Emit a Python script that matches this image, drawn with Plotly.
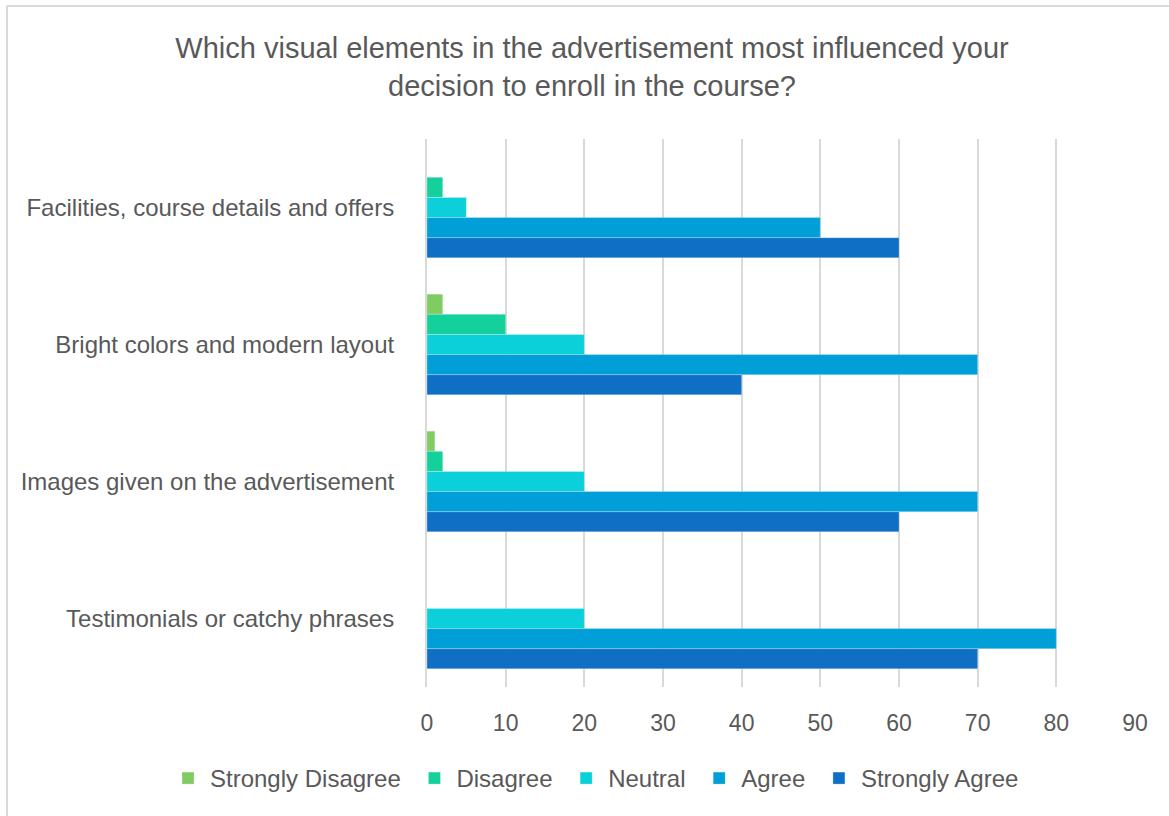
import plotly.graph_objects as go

categories = [
    "Facilities, course details and offers",
    "Bright colors and modern layout",
    "Images given on the advertisement",
    "Testimonials or catchy phrases",
]
series_names = ["Strongly Disagree", "Disagree", "Neutral", "Agree", "Strongly Agree"]
strongly_disagree = [0, 2, 1, 0]
disagree = [2, 10, 2, 0]
neutral = [5, 20, 20, 20]
agree = [50, 70, 70, 80]
strongly_agree = [60, 40, 60, 70]
x_ticks = [0, 10, 20, 30, 40, 50, 60, 70, 80, 90]

values = [strongly_disagree, disagree, neutral, agree, strongly_agree]
colors = ["#7fcc60", "#14d09a", "#0bd0da", "#019fd7", "#0f6fc4"]

FONT = "Liberation Sans, Arial, sans-serif"
W, H = 1169, 816
L, R, T, B = 427, 34, 139, 129
pw = W - L - R
ph = H - T - B

fig = go.Figure()
for name, vals, col in zip(series_names, values, colors):
    fig.add_trace(go.Bar(
        y=categories, x=vals, name=name + "\u00a0", orientation="h",
        marker=dict(color=col, line=dict(color="rgba(255,255,255,0.5)", width=0.5)),
    ))

fig.update_layout(
    width=W, height=H,
    paper_bgcolor="white", plot_bgcolor="white",
    barmode="group", bargap=0.265, bargroupgap=0,
    margin=dict(l=L, r=R, t=T, b=B, autoexpand=False),
    title=dict(
        text="Which visual elements in the advertisement most influenced your<br>decision to enroll in the course?",
        x=592 / W, xanchor="center", xref="container",
        y=1 - 58 / H, yanchor="top", yref="container",
        font=dict(family=FONT, size=29, color="#595959"),
    ),
    xaxis=dict(
        range=[0, 90], tickvals=x_ticks, showgrid=True, gridcolor="#d9d9d9", gridwidth=2,
        zeroline=False, showline=False, ticks="",
        ticklabelstandoff=20,
        tickfont=dict(family=FONT, size=23, color="#595959"),
    ),
    yaxis=dict(
        autorange="reversed", showgrid=False, zeroline=False,
        showline=True, linecolor="#d9d9d9", linewidth=2, ticks="",
        ticklabelstandoff=26,
        tickfont=dict(family=FONT, size=24, color="#595959"),
    ),
    legend=dict(
        orientation="h", x=(166 - L) / pw, xanchor="left", xref="paper",
        y=-(756 - (H - B)) / ph, yanchor="top", yref="paper", traceorder="normal",
        font=dict(family=FONT, size=24, color="#595959"),
        itemwidth=34,
    ),
)
xl = (7 - L) / pw
yt = (H - B - 6) / ph
fig.layout.shapes = [
    dict(type="line", xref="paper", yref="paper", x0=xl, x1=(W - L) / pw + 0.01, y0=yt, y1=yt,
         line=dict(color="#d9d9d9", width=2)),
    dict(type="line", xref="paper", yref="paper", x0=xl, x1=xl, y0=yt, y1=-(B + 10) / ph,
         line=dict(color="#d9d9d9", width=2)),
]

fig.write_html("out.html")
